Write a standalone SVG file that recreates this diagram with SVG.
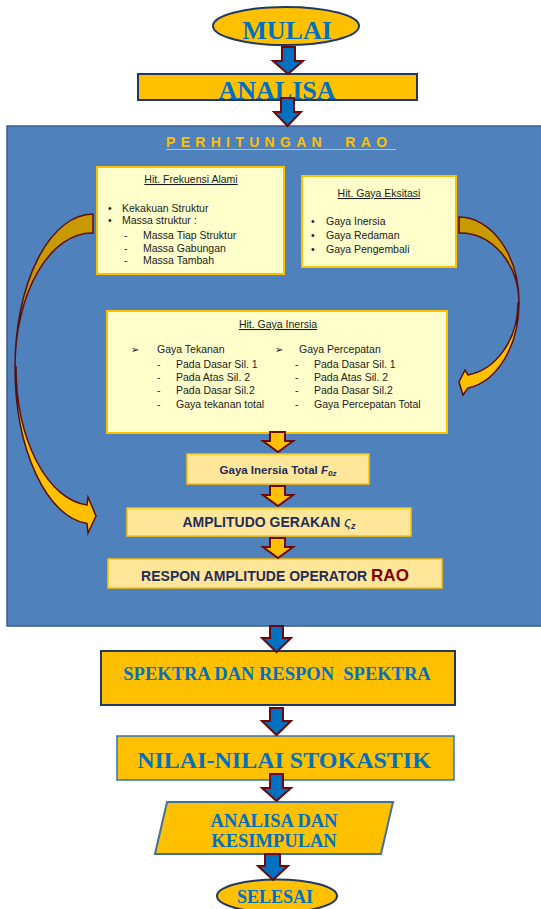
<svg xmlns="http://www.w3.org/2000/svg" width="541" height="909" viewBox="0 0 541 909">
<style>
.ser{font-family:"Liberation Serif","Times New Roman",serif;font-weight:bold;fill:#0070C0;text-anchor:middle}
.sm{font-family:"Liberation Sans",Arial,sans-serif;font-size:10.5px;fill:#1a1a1a}
.ttl{text-anchor:middle;text-decoration:underline}
.bar{font-family:"Liberation Sans",Arial,sans-serif;font-weight:bold;fill:#1F2D5A;text-anchor:middle}
.bigarrow{fill:#0070C0;stroke:#6B0A0A;stroke-width:2;stroke-linejoin:miter}
.yarrow{fill:#FFC000;stroke:#6B0A0A;stroke-width:2}
.boxY{fill:#FFFFCC;stroke:#FFC000;stroke-width:2}
.boxO{fill:#FFE699;stroke:#FFC000;stroke-width:1.5}
.dark{fill:#C89A00;stroke:#5A0F0F;stroke-width:1.5}
.light{fill:#FFC000;stroke:#5A0F0F;stroke-width:1.5}
.arr{font-family:"DejaVu Sans",sans-serif;font-size:10px;fill:#000}
</style>

<g id="mulai">
<ellipse cx="286" cy="26" rx="73" ry="19" fill="#FFC000" stroke="#1F3864" stroke-width="2"/>
<text class="ser" x="287" y="39" font-size="26">MULAI</text>
</g>

<g id="analisa">
<rect x="138" y="74" width="279" height="26" fill="#FFC000" stroke="#1F3864" stroke-width="2"/>
<text class="ser" x="277" y="99" font-size="26">ANALISA</text>
</g>

<g id="perhitungan-rao">
<rect x="7" y="126" width="540" height="500" fill="#4F81BD" stroke="#385D8A" stroke-width="1.5"/>
<text x="166" y="146.5" font-family="Liberation Sans,Arial,sans-serif" font-weight="bold" font-size="14" fill="#FFC000" letter-spacing="5.3" xml:space="preserve">PERHITUNGAN  RAO</text>
<line x1="166" y1="149.5" x2="396" y2="149.5" stroke="#FFC000" stroke-width="1"/>
</g>

<g id="curved-arrows">
<path class="dark" d="M93,214 A78,153 0 0 0 15,367 A77,134 0 0 1 93,233 Z"/>
<path class="light" d="M15,367 A78,157 0 0 0 87,523.5 L88,533 L96,516 L88,497 L87,505 A77,138.4 0 0 1 16,367 Z"/>
<path class="dark" d="M459,217 A60,86 0 0 1 519,303 A59,70 0 0 0 459,233 Z"/>
<path class="light" d="M519,303 A60,86 0 0 1 468,388 L463,395 L459,382 L465,370 L468,375 A59,73 0 0 0 518,303 Z"/>
</g>

<g id="hit-frekuensi">
<rect class="boxY" x="97" y="167" width="187" height="107"/>
<text class="sm ttl" x="191" y="183">Hit. Frekuensi Alami</text>
<text class="sm" x="108" y="212">•</text><text class="sm" x="122" y="212">Kekakuan Struktur</text>
<text class="sm" x="108" y="224">•</text><text class="sm" x="122" y="224">Massa struktur :</text>
<text class="sm" x="124" y="239">-</text><text class="sm" x="143" y="239">Massa Tiap Struktur</text>
<text class="sm" x="124" y="252">-</text><text class="sm" x="143" y="252">Massa Gabungan</text>
<text class="sm" x="124" y="264">-</text><text class="sm" x="143" y="264">Massa Tambah</text>
</g>

<g id="hit-gaya-eksitasi">
<rect class="boxY" x="302" y="176" width="154" height="91"/>
<text class="sm ttl" x="379" y="197">Hit. Gaya Eksitasi</text>
<text class="sm" x="311" y="225">•</text><text class="sm" x="326" y="225">Gaya Inersia</text>
<text class="sm" x="311" y="239">•</text><text class="sm" x="326" y="239">Gaya Redaman</text>
<text class="sm" x="311" y="253">•</text><text class="sm" x="326" y="253">Gaya Pengembali</text>
</g>

<g id="hit-gaya-inersia">
<rect class="boxY" x="107" y="311" width="340" height="122"/>
<text class="sm ttl" x="278" y="328">Hit. Gaya Inersia</text>
<text class="arr" x="131" y="353">➢</text><text class="sm" x="157" y="353">Gaya Tekanan</text>
<text class="sm" x="157" y="368">-</text><text class="sm" x="176" y="368">Pada Dasar Sil. 1</text>
<text class="sm" x="157" y="381">-</text><text class="sm" x="176" y="381">Pada Atas Sil. 2</text>
<text class="sm" x="157" y="394">-</text><text class="sm" x="176" y="394">Pada Dasar Sil.2</text>
<text class="sm" x="157" y="408">-</text><text class="sm" x="176" y="408">Gaya tekanan total</text>
<text class="arr" x="275" y="353">➢</text><text class="sm" x="299" y="353">Gaya Percepatan</text>
<text class="sm" x="295" y="368">-</text><text class="sm" x="314" y="368">Pada Dasar Sil. 1</text>
<text class="sm" x="295" y="381">-</text><text class="sm" x="314" y="381">Pada Atas Sil. 2</text>
<text class="sm" x="295" y="394">-</text><text class="sm" x="314" y="394">Pada Dasar Sil.2</text>
<text class="sm" x="295" y="408">-</text><text class="sm" x="314" y="408">Gaya Percepatan Total</text>
</g>

<g id="gaya-inersia-total">
<rect class="boxO" x="187" y="454" width="182" height="30"/>
<text class="bar" x="278" y="474" font-size="11.5">Gaya Inersia Total <tspan font-style="italic">F</tspan><tspan font-style="italic" font-size="8" dy="1.5">0z</tspan></text>
</g>

<g id="amplitudo-gerakan">
<rect class="boxO" x="127" y="508" width="284" height="28"/>
<text class="bar" x="269" y="527" font-size="14">AMPLITUDO GERAKAN <tspan font-style="italic" font-weight="normal">ς</tspan><tspan font-style="italic" font-size="9" dy="2">z</tspan></text>
</g>

<g id="rao">
<rect class="boxO" x="108" y="559" width="334" height="29"/>
<text class="bar" x="275" y="581" font-size="14">RESPON AMPLITUDE OPERATOR <tspan fill="#7F0000" font-size="17">RAO</tspan></text>
</g>

<g id="spektra">
<rect x="101" y="651" width="354" height="54" fill="#FFC000" stroke="#1F3864" stroke-width="2"/>
<text class="ser" x="277" y="680" font-size="18.5" xml:space="preserve">SPEKTRA DAN RESPON  SPEKTRA</text>
</g>

<g id="stokastik">
<rect x="117" y="736" width="337" height="44" fill="#FFC000" stroke="#2E75B6" stroke-width="1.5"/>
<text class="ser" x="284" y="768" font-size="24">NILAI-NILAI STOKASTIK</text>
</g>

<g id="kesimpulan">
<polygon points="167,802 393,802 381,854 155,854" fill="#FFC000" stroke="#41719C" stroke-width="2"/>
<text class="ser" x="274" y="827" font-size="18.5">ANALISA DAN</text>
<text class="ser" x="274" y="847" font-size="18.5">KESIMPULAN</text>
</g>

<g id="selesai">
<ellipse cx="277" cy="896" rx="60" ry="16.5" fill="#FFC000" stroke="#1F3864" stroke-width="2"/>
<text class="ser" x="275" y="903" font-size="18">SELESAI</text>
</g>

<g id="connectors">
<path class="bigarrow" d="M282,47 L295,47 L295,61 L303,61 L288,74 L273,61 L282,61 Z"/>
<path class="bigarrow" d="M281,98 L294,98 L294,112 L301,112 L287.5,126 L274,112 L281,112 Z"/>
<path class="yarrow" d="M270,432 L285,432 L285,441 L293,441 L278,452 L263,441 L270,441 Z"/>
<path class="yarrow" d="M270,486 L285,486 L285,495 L293,495 L278,506 L263,495 L270,495 Z"/>
<path class="yarrow" d="M270,538 L285,538 L285,547 L293,547 L278,558 L263,547 L270,547 Z"/>
<path class="bigarrow" d="M270,626 L283,626 L283,638 L291,638 L276.5,652 L262,638 L270,638 Z"/>
<path class="bigarrow" d="M270,708 L283,708 L283,721 L291,721 L276.5,735 L262,721 L270,721 Z"/>
<path class="bigarrow" d="M270,774 L283,774 L283,788 L291,788 L276.5,801 L262,788 L270,788 Z"/>
<path class="bigarrow" d="M265,854 L280,854 L280,866 L288,866 L273,880 L258,866 L265,866 Z"/>
</g>
</svg>
